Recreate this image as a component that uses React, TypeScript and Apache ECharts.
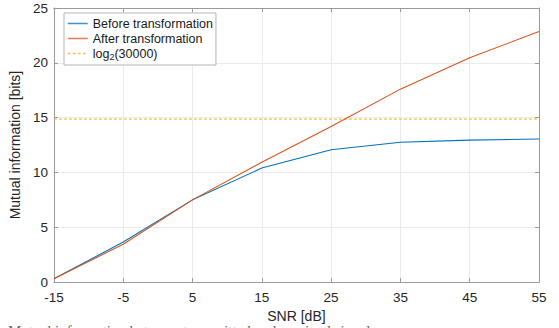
import React, { useEffect, useRef } from "react";
import * as echarts from "echarts";

const snr = [-15, -5, 5, 15, 25, 35, 45, 55];
const beforeTransformation = [0.3, 3.65, 7.5, 10.4, 12.07, 12.75, 12.95, 13.05];
const afterTransformation = [0.3, 3.45, 7.5, 10.93, 14.2, 17.6, 20.47, 22.85];
const log2Level = 14.87;
const logLineX = [-15, 55];
const seriesNames = ["Before transformation", "After transformation", "log2(30000)"];
const seriesColors = ["#0072BD", "#D95319", "#EDB120"];
const caption = "Mutual information between transmitted and received signals";

const FONT = "'Liberation Sans', Arial, Helvetica, sans-serif";

export default function App() {
  const ref = useRef<HTMLDivElement>(null);
  useEffect(() => {
    if (!ref.current) return;
    const chart = echarts.init(ref.current, undefined, { renderer: "svg" });
    const axisColor = "#9a9a9a";
    const baseX = {
      type: "value",
      min: -15,
      max: 55,
      interval: 10,
    };
    const baseY = {
      type: "value",
      min: 0,
      max: 25,
      interval: 5,
    };
    const line = { show: true, onZero: false, lineStyle: { color: axisColor, width: 1 } };
    const tick = { show: true, inside: true, length: 4, lineStyle: { color: axisColor } };
    chart.setOption({
      animation: false,
      backgroundColor: "#ffffff",
      textStyle: { fontFamily: FONT },
      grid: { left: 50, right: 20, top: 8, bottom: 44, containLabel: false },
      legend: {
        left: 64,
        top: 13,
        orient: "vertical",
        backgroundColor: "#ffffff",
        borderColor: "#b5b5b5",
        borderWidth: 1,
        borderRadius: 0,
        padding: [4, 3, 4, 3],
        itemGap: 2,
        itemWidth: 20,
        itemHeight: 13,
        itemStyle: { opacity: 0, borderWidth: 0 },
        textStyle: {
          fontFamily: FONT,
          fontSize: 12.5,
          color: "#1a1a1a",
          rich: {
            a: { fontFamily: FONT, fontSize: 12.5, color: "#1a1a1a" },
            sub: { fontFamily: FONT, fontSize: 9, color: "#1a1a1a", padding: [6, 0, 0, 0] },
          },
        },
        formatter: (name: string) =>
          name === seriesNames[2] ? "{a|log}{sub|2}{a|(30000)}" : name,
        data: seriesNames.map((n, i) => ({
          name: n,
          lineStyle: {
            color: seriesColors[i],
            width: 1.5,
            opacity: 0.75,
            type: i === 2 ? [3, 2] : "solid",
          },
        })),
      },
      xAxis: [
        {
          ...baseX,
          position: "bottom",
          name: "SNR [dB]",
          nameLocation: "middle",
          nameGap: 24,
          nameTextStyle: { fontFamily: FONT, fontSize: 14, color: "#262626" },
          axisLine: line,
          axisTick: tick,
          axisLabel: { fontFamily: FONT, fontSize: 13.5, color: "#262626", margin: 8 },
          splitLine: { show: true, lineStyle: { color: "#ebebeb", width: 1 } },
        },
        {
          ...baseX,
          position: "top",
          axisLine: line,
          axisTick: tick,
          axisLabel: { show: false },
          splitLine: { show: false },
        },
      ],
      yAxis: [
        {
          ...baseY,
          position: "left",
          name: "Mutual information [bits]",
          nameLocation: "middle",
          nameGap: 21,
          nameTextStyle: { fontFamily: FONT, fontSize: 14, color: "#262626" },
          axisLine: line,
          axisTick: tick,
          axisLabel: { fontFamily: FONT, fontSize: 13.5, color: "#262626", margin: 6 },
          splitLine: { show: true, lineStyle: { color: "#ebebeb", width: 1 } },
        },
        {
          ...baseY,
          position: "right",
          axisLine: line,
          axisTick: tick,
          axisLabel: { show: false },
          splitLine: { show: false },
        },
      ],
      series: [
        {
          name: seriesNames[0],
          type: "line",
          xAxisIndex: 0,
          yAxisIndex: 0,
          showSymbol: false,
          symbol: "none",
          color: seriesColors[0],
          lineStyle: { color: seriesColors[0], width: 1.1 },
          data: snr.map((x, i) => [x, beforeTransformation[i]]),
        },
        {
          name: seriesNames[1],
          type: "line",
          xAxisIndex: 0,
          yAxisIndex: 0,
          showSymbol: false,
          symbol: "none",
          color: seriesColors[1],
          lineStyle: { color: seriesColors[1], width: 1.1 },
          data: snr.map((x, i) => [x, afterTransformation[i]]),
        },
        {
          name: seriesNames[2],
          type: "line",
          xAxisIndex: 0,
          yAxisIndex: 0,
          showSymbol: false,
          symbol: "none",
          color: seriesColors[2],
          lineStyle: { color: seriesColors[2], width: 1, type: [3, 2] },
          data: logLineX.map((x) => [x, log2Level]),
          z: 1,
        },
      ],
      graphic: [
        {
          type: "text",
          left: 8,
          top: 323,
          silent: true,
          style: {
            text: caption,
            font: "15px 'Liberation Serif', 'Times New Roman', serif",
            fill: "#666666",
          },
        },
      ],
    });
    return () => chart.dispose();
  }, []);
  return (
    <div
      ref={ref}
      style={{ position: "fixed", left: 0, top: 0, width: 559, height: 328 }}
    />
  );
}
